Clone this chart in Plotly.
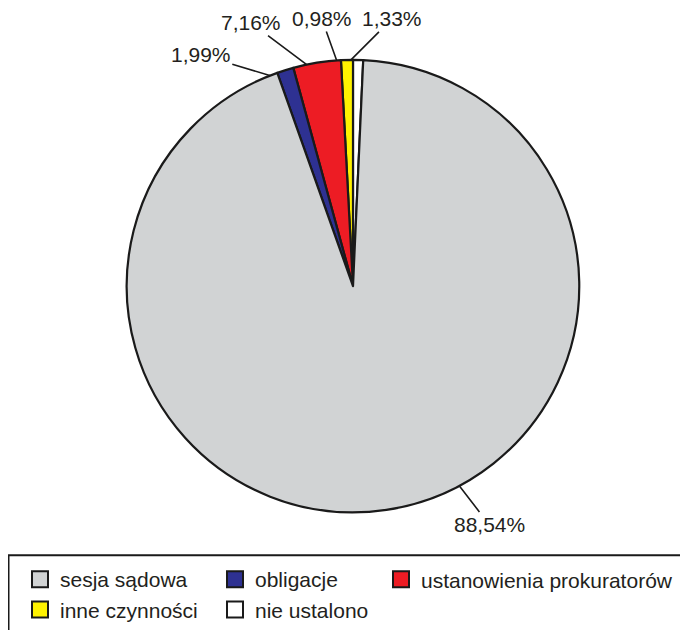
import math
import plotly.graph_objects as go

# ---- data ----
slice_labels = ["nie ustalono", "inne czynności", "ustanowienia prokuratorów", "obligacje", "sesja sądowa"]
slice_shares = [0.72, 0.85, 3.40, 1.18, 93.85]          # drawn slice sizes (as seen in the picture)
slice_texts = ["1,33%", "0,98%", "7,16%", "1,99%", "88,54%"]  # printed labels
slice_colors = ["#FFFFFF", "#FFF200", "#ED1C24", "#2E3192", "#D1D3D4"]

legend_cols = [["sesja sądowa", "inne czynności"], ["obligacje", "nie ustalono"], ["ustanowienia prokuratorów"]]

# ---- layout constants (styling) ----
W, H = 680, 622          # page body adds an 8px margin
CX, CY, R = 345, 279, 227
FONT = "Arial, Liberation Sans, sans-serif"
TEXT_COLOR = "#231F20"

# label styling: where along the slice the leader line touches, and text offset (px)
anchor_frac = [0.2, 0.5, 0.5, 0.85, 0.55]
label_off = [(41, -41), (-15, -42), (-56, -42), (-69, -21), (30, 39)]

fig = go.Figure()
fig.add_trace(go.Pie(
    labels=slice_labels, values=slice_shares, sort=False, direction="counterclockwise",
    rotation=0, textinfo="none", hoverinfo="label+text", text=slice_texts,
    marker=dict(colors=slice_colors, line=dict(color="#1A1A1A", width=2.2)),
    domain=dict(x=[(CX - R) / W, (CX + R) / W], y=[1 - (CY + R) / H, 1 - (CY - R) / H]),
    showlegend=False,
))

# leader-line labels, anchored on the circle from the data
total = sum(slice_shares)
cum = 0.0
annotations = []
for share, txt, fr, (ax, ay) in zip(slice_shares, slice_texts, anchor_frac, label_off):
    f = (cum + fr * share) / total
    cum += share
    th = 2 * math.pi * f
    px = CX - R * math.sin(th)
    py = CY - R * math.cos(th)
    annotations.append(dict(
        x=px / W, y=1 - py / H, xref="paper", yref="paper", text=txt,
        showarrow=True, arrowhead=0, arrowwidth=1.6, arrowcolor="#1A1A1A",
        ax=ax, ay=ay, standoff=0, font=dict(family=FONT, size=21, color=TEXT_COLOR),
    ))

# legend entries (dummy traces so the legend can be laid out in columns)
color_of = dict(zip(slice_labels, slice_colors))
legend_names = ["legend", "legend2", "legend3"]
for col, lname in zip(legend_cols, legend_names):
    for name in col:
        fig.add_trace(go.Scatter(
            x=[None], y=[None], mode="markers", name=name, legend=lname,
            marker=dict(symbol="square", size=16, color=color_of[name],
                        line=dict(color="#1A1A1A", width=2)),
            hoverinfo="skip",
        ))

legend_style = dict(
    orientation="v", xanchor="left", yanchor="top", y=1 - 553 / H,
    font=dict(family=FONT, size=21, color=TEXT_COLOR), bgcolor="rgba(0,0,0,0)",
    borderwidth=0, tracegroupgap=0, itemsizing="trace",
)

fig.update_layout(
    width=W, height=H, margin=dict(l=0, r=0, t=0, b=0),
    paper_bgcolor="white", plot_bgcolor="white",
    xaxis=dict(visible=False), yaxis=dict(visible=False),
    annotations=annotations,
    legend=dict(legend_style, x=12 / W),
    legend2=dict(legend_style, x=207 / W),
    legend3=dict(legend_style, x=373 / W),
    shapes=[dict(type="rect", xref="paper", yref="paper", x0=0.5 / W, x1=1.05,
                 y0=-0.05, y1=1 - 549 / H, line=dict(color="#1A1A1A", width=2))],
    showlegend=True,
)

fig.write_html("out.html")
